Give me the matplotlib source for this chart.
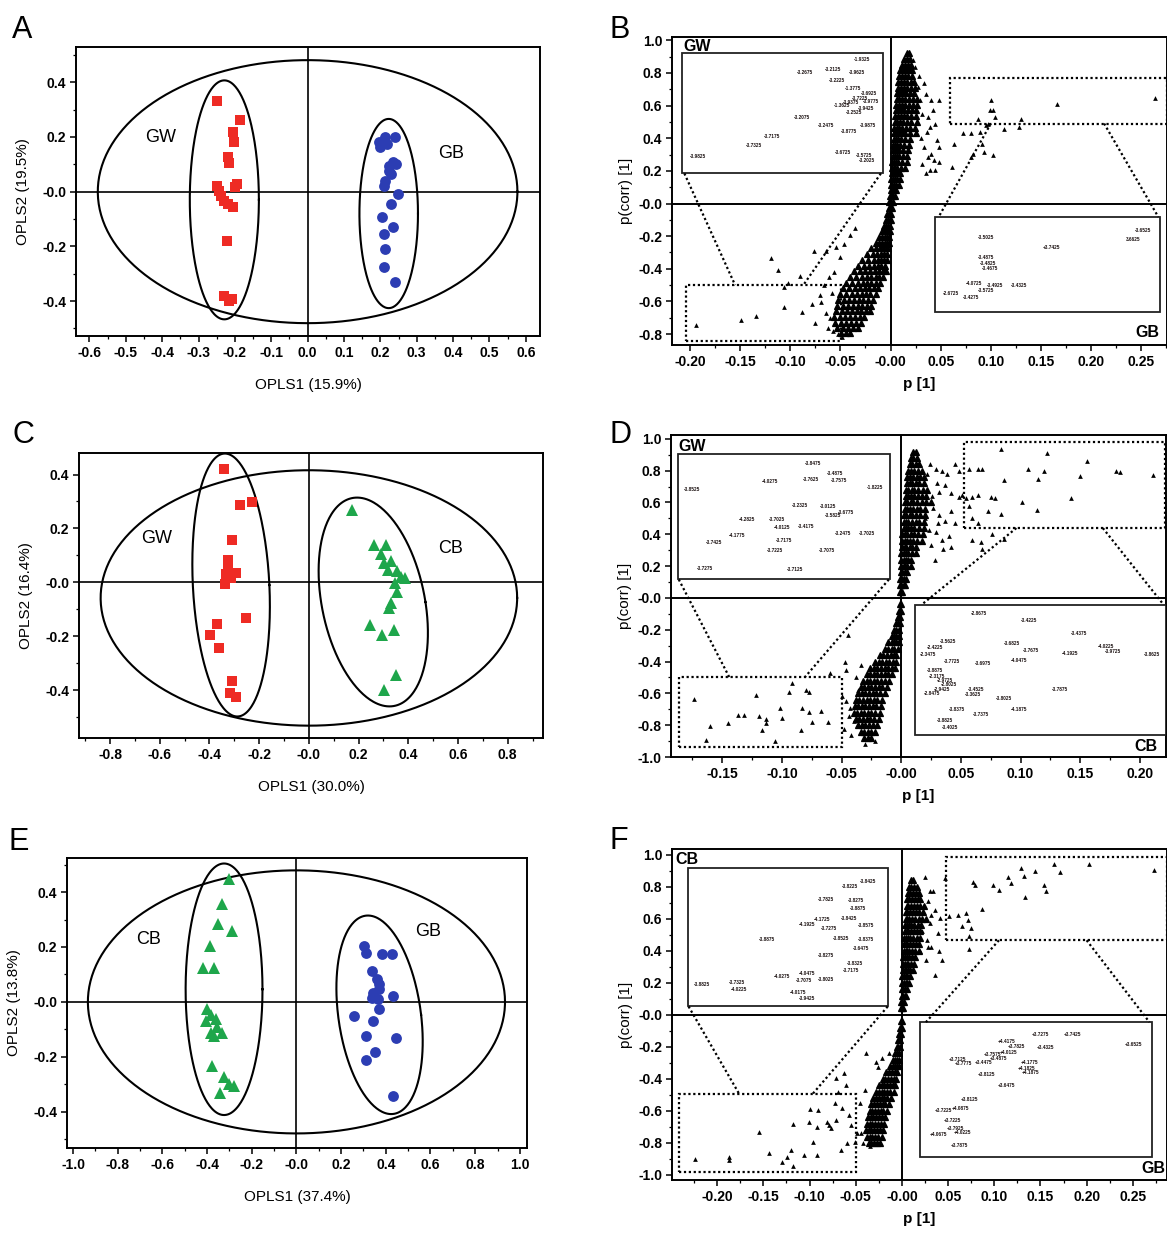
import numpy as np
import matplotlib
matplotlib.use("Agg")
import matplotlib.pyplot as plt
from matplotlib.patches import Rectangle
from matplotlib.ticker import AutoMinorLocator

plt.rcParams['font.family'] = ['Liberation Sans', 'DejaVu Sans']

RED = '#ee2b24'
BLUE = '#2c3db3'
GREEN = '#1ea64b'

# ===================== DATA: score plots =====================
a_gw_x = [-0.25, -0.186, -0.205, -0.203, -0.218, -0.215, -0.194, -0.25, -0.243, -0.237, -0.23, -0.218, -0.205, -0.2, -0.223, -0.23, -0.207, -0.215]
a_gw_y = [0.333, 0.263, 0.217, 0.181, 0.126, 0.105, 0.028, 0.022, 0.004, -0.015, -0.033, -0.045, -0.057, 0.016, -0.182, -0.381, -0.393, -0.4]
a_gb_x = [0.2, 0.214, 0.239, 0.219, 0.195, 0.234, 0.224, 0.244, 0.214, 0.229, 0.249, 0.229, 0.204, 0.234, 0.209, 0.214, 0.209, 0.239, 0.224, 0.209]
a_gb_y = [0.162, 0.199, 0.199, 0.175, 0.181, 0.107, 0.077, 0.101, 0.04, 0.065, -0.009, -0.045, -0.094, -0.131, -0.155, -0.21, -0.277, -0.332, 0.093, 0.022]

c_gw_x = [-0.341, -0.276, -0.229, -0.309, -0.324, -0.327, -0.335, -0.295, -0.338, -0.312, -0.255, -0.371, -0.396, -0.36, -0.309, -0.319, -0.295]
c_gw_y = [0.422, 0.286, 0.299, 0.157, 0.083, 0.058, 0.031, 0.033, -0.006, 0.015, -0.133, -0.154, -0.195, -0.244, -0.368, -0.411, -0.426]
c_cb_x = [0.173, 0.263, 0.309, 0.292, 0.302, 0.331, 0.317, 0.353, 0.37, 0.388, 0.345, 0.355, 0.324, 0.245, 0.295, 0.341, 0.35, 0.302, 0.331]
c_cb_y = [0.268, 0.138, 0.138, 0.105, 0.07, 0.08, 0.046, 0.043, 0.021, 0.015, -0.004, -0.035, -0.096, -0.158, -0.195, -0.177, -0.343, -0.399, -0.078]

e_cb_x = [-0.304, -0.333, -0.349, -0.288, -0.387, -0.416, -0.368, -0.4, -0.381, -0.36, -0.403, -0.355, -0.333, -0.368, -0.384, -0.376, -0.323, -0.28, -0.344, -0.304]
e_cb_y = [0.446, 0.355, 0.282, 0.258, 0.204, 0.125, 0.125, -0.027, -0.048, -0.063, -0.069, -0.09, -0.112, -0.126, -0.112, -0.233, -0.275, -0.305, -0.33, -0.299]
e_gb_x = [0.304, 0.312, 0.384, 0.429, 0.336, 0.36, 0.368, 0.344, 0.336, 0.365, 0.432, 0.368, 0.256, 0.344, 0.312, 0.445, 0.352, 0.312, 0.432, 0.371]
e_gb_y = [0.204, 0.179, 0.173, 0.173, 0.113, 0.082, 0.064, 0.034, 0.016, 0.01, 0.022, -0.027, -0.051, -0.069, -0.124, -0.13, -0.184, -0.211, -0.342, 0.046]

# ellipses: centre x, centre y, half width, half height, shear
a_ell = [(0.0, 0.0, 0.577, 0.481, 0.0), (-0.229, -0.03, 0.095, 0.437, 0.0), (0.223, -0.08, 0.0805, 0.346, 0.0)]
c_ell = [(0.0, -0.058, 0.838, 0.474, 0.0), (-0.313, -0.01, 0.154, 0.488, -0.051), (0.259, -0.073, 0.21, 0.3875, -0.168)]
e_ell = [(0.0, 0.0, 0.9335, 0.479, 0.0), (-0.324, 0.046, 0.172, 0.458, 0.0), (0.372, -0.047, 0.186, 0.3615, -0.144)]

# ===================== DATA: S-plots =====================
b_up_rows = [
    (0.92, [0.016, 0.018]), (0.885, [0.013, 0.016, 0.019]), (0.85, [0.011, 0.014, 0.017, 0.020]),
    (0.815, [0.009, 0.012, 0.015, 0.018, 0.021]), (0.78, [0.008, 0.011, 0.014, 0.017, 0.021]),
    (0.745, [0.007, 0.010, 0.013, 0.016, 0.020, 0.023]), (0.71, [0.007, 0.010, 0.013, 0.016, 0.020, 0.024]),
    (0.675, [0.006, 0.009, 0.012, 0.015, 0.019, 0.023]), (0.64, [0.006, 0.008, 0.011, 0.014, 0.018, 0.022, 0.026]),
    (0.605, [0.005, 0.008, 0.011, 0.014, 0.018, 0.022, 0.026]), (0.57, [0.005, 0.007, 0.010, 0.013, 0.017, 0.021, 0.025]),
    (0.535, [0.004, 0.007, 0.010, 0.013, 0.016, 0.020, 0.025]), (0.50, [0.004, 0.006, 0.009, 0.012, 0.016, 0.020, 0.026]),
    (0.465, [0.003, 0.006, 0.008, 0.011, 0.015, 0.019, 0.024]), (0.43, [0.003, 0.005, 0.008, 0.011, 0.014, 0.019, 0.025]),
    (0.395, [0.003, 0.005, 0.007, 0.010, 0.014, 0.019]), (0.36, [0.002, 0.004, 0.006, 0.009, 0.013, 0.018]),
    (0.325, [0.002, 0.004, 0.006, 0.008, 0.012, 0.017]), (0.29, [0.002, 0.004, 0.006, 0.008, 0.012, 0.016]),
    (0.255, [0.001, 0.003, 0.005, 0.007, 0.011, 0.016]), (0.22, [0.001, 0.003, 0.004, 0.006, 0.010, 0.014]),
    (0.185, [0.001, 0.002, 0.004, 0.006, 0.009]), (0.15, [0.000, 0.002, 0.004, 0.006, 0.009]),
    (0.115, [0.000, 0.001, 0.003, 0.005, 0.008]), (0.08, [0.000, 0.001, 0.003, 0.005]),
    (0.045, [-0.001, 0.001, 0.002, 0.004]), (0.01, [-0.002, 0.000, 0.002]),
]
b_lo_rows = [
    (-0.03, [-0.002, -0.001, 0.001]), (-0.065, [-0.004, -0.002, -0.001, 0.000]),
    (-0.10, [-0.005, -0.003, -0.001, 0.000]), (-0.135, [-0.007, -0.005, -0.003, -0.001]),
    (-0.17, [-0.009, -0.007, -0.005, -0.003, -0.001]), (-0.205, [-0.012, -0.009, -0.006, -0.004, -0.002]),
    (-0.24, [-0.015, -0.012, -0.009, -0.006, -0.004, -0.002]), (-0.275, [-0.019, -0.015, -0.011, -0.008, -0.005, -0.003]),
    (-0.31, [-0.023, -0.018, -0.014, -0.010, -0.007, -0.004]), (-0.345, [-0.028, -0.022, -0.017, -0.013, -0.010, -0.007, -0.004]),
    (-0.38, [-0.032, -0.026, -0.021, -0.017, -0.013, -0.010, -0.006]),
    (-0.415, [-0.036, -0.030, -0.025, -0.020, -0.016, -0.012, -0.008, -0.005]),
    (-0.45, [-0.040, -0.034, -0.028, -0.023, -0.019, -0.015, -0.012, -0.008]),
    (-0.485, [-0.044, -0.038, -0.032, -0.027, -0.023, -0.019, -0.015, -0.011]),
    (-0.52, [-0.047, -0.041, -0.035, -0.030, -0.025, -0.021, -0.017, -0.013]),
    (-0.555, [-0.050, -0.044, -0.038, -0.033, -0.028, -0.024, -0.020, -0.015]),
    (-0.59, [-0.052, -0.046, -0.041, -0.036, -0.031, -0.027, -0.022, -0.018]),
    (-0.625, [-0.053, -0.047, -0.042, -0.037, -0.032, -0.028, -0.023, -0.019]),
    (-0.66, [-0.054, -0.048, -0.043, -0.038, -0.033, -0.029, -0.024, -0.020]),
    (-0.695, [-0.056, -0.050, -0.045, -0.040, -0.035, -0.030, -0.026]),
    (-0.73, [-0.055, -0.049, -0.044, -0.039, -0.034, -0.029]),
    (-0.765, [-0.053, -0.047, -0.042, -0.037, -0.032]),
    (-0.795, [-0.049, -0.044, -0.040]),
]
b_sc_x = [0.024, 0.027, 0.029, 0.031, 0.035, 0.037, 0.039, 0.040, 0.042, 0.044, 0.046, 0.043, 0.037, 0.033, 0.040, 0.048, 0.031, 0.035, 0.039, 0.044, 0.048, 0.048, 0.063, 0.061, 0.072, 0.080, 0.082, 0.080, 0.091, 0.089, 0.087, 0.095, 0.100, 0.099, 0.102, 0.104, 0.102, 0.093, 0.097, 0.113, 0.128, 0.130, 0.166, 0.264, 0.028, 0.033, 0.022, 0.030, 0.036, 0.026,
          -0.194, -0.149, -0.134, -0.119, -0.112, -0.106, -0.106, -0.102, -0.090, -0.088, -0.076, -0.078, -0.075, -0.064, -0.069, -0.066, -0.061, -0.064, -0.054, -0.058, -0.060, -0.062, -0.057, -0.052, -0.048, -0.046, -0.040, -0.035, -0.050, -0.056, -0.070]
b_sc_y = [0.837, 0.714, 0.633, 0.551, 0.673, 0.531, 0.469, 0.633, 0.571, 0.49, 0.388, 0.265, 0.286, 0.347, 0.306, 0.255, 0.245, 0.184, 0.204, 0.204, 0.347, 0.633, 0.367, 0.224, 0.429, 0.429, 0.306, 0.286, 0.367, 0.439, 0.52, 0.48, 0.633, 0.571, 0.571, 0.531, 0.296, 0.316, 0.49, 0.459, 0.469, 0.52, 0.608, 0.647, 0.78, 0.74, 0.88, 0.40, 0.44, 0.50,
          -0.745, -0.714, -0.69, -0.331, -0.408, -0.514, -0.637, -0.484, -0.443, -0.663, -0.29, -0.616, -0.731, -0.29, -0.602, -0.50, -0.449, -0.673, -0.265, -0.55, -0.70, -0.76, -0.78, -0.80, -0.82, -0.25, -0.19, -0.15, -0.33, -0.42, -0.56]

d_up_rows = [
    (0.92, [0.010, 0.012]), (0.88, [0.008, 0.010, 0.013]), (0.84, [0.007, 0.009, 0.012, 0.015]),
    (0.80, [0.006, 0.008, 0.011, 0.014, 0.017]), (0.76, [0.005, 0.007, 0.010, 0.013, 0.016, 0.019]),
    (0.72, [0.005, 0.007, 0.009, 0.012, 0.015, 0.019]), (0.68, [0.004, 0.006, 0.009, 0.011, 0.014, 0.018, 0.022]),
    (0.64, [0.004, 0.006, 0.008, 0.011, 0.014, 0.017, 0.021]), (0.60, [0.003, 0.005, 0.008, 0.010, 0.013, 0.017, 0.021, 0.025]),
    (0.56, [0.003, 0.005, 0.007, 0.010, 0.013, 0.016, 0.020]), (0.52, [0.002, 0.004, 0.007, 0.009, 0.012, 0.016, 0.020]),
    (0.48, [0.002, 0.004, 0.006, 0.009, 0.012, 0.015, 0.019]), (0.44, [0.002, 0.004, 0.006, 0.008, 0.011, 0.015, 0.019]),
    (0.40, [0.001, 0.003, 0.005, 0.008, 0.011, 0.014, 0.018]), (0.36, [0.001, 0.003, 0.005, 0.007, 0.010, 0.013, 0.017]),
    (0.32, [0.001, 0.003, 0.004, 0.007, 0.009, 0.012]), (0.28, [0.000, 0.002, 0.004, 0.006, 0.009, 0.012]),
    (0.24, [0.000, 0.002, 0.004, 0.006, 0.008]), (0.20, [0.000, 0.002, 0.003, 0.005, 0.008]),
    (0.16, [0.000, 0.001, 0.003, 0.005]), (0.12, [-0.001, 0.001, 0.002, 0.004]),
    (0.08, [-0.001, 0.000, 0.002, 0.003]), (0.04, [-0.001, 0.000, 0.001]),
]
d_lo_rows = [
    (-0.04, [-0.001, 0.000]), (-0.08, [-0.002, -0.001, 0.000]), (-0.12, [-0.003, -0.002, -0.001]),
    (-0.16, [-0.004, -0.003, -0.001]), (-0.20, [-0.006, -0.004, -0.002]), (-0.24, [-0.008, -0.006, -0.004, -0.002]),
    (-0.28, [-0.011, -0.008, -0.006, -0.004, -0.002]), (-0.32, [-0.014, -0.011, -0.008, -0.006, -0.003]),
    (-0.36, [-0.018, -0.015, -0.012, -0.009, -0.006, -0.004]),
    (-0.40, [-0.022, -0.019, -0.016, -0.013, -0.010, -0.007, -0.004]),
    (-0.44, [-0.026, -0.023, -0.020, -0.017, -0.014, -0.011, -0.008, -0.005]),
    (-0.48, [-0.029, -0.026, -0.023, -0.020, -0.017, -0.014, -0.011, -0.008]),
    (-0.52, [-0.032, -0.029, -0.026, -0.023, -0.020, -0.017, -0.014, -0.010]),
    (-0.56, [-0.034, -0.031, -0.028, -0.025, -0.022, -0.019, -0.016, -0.012]),
    (-0.60, [-0.036, -0.033, -0.030, -0.027, -0.024, -0.021, -0.018, -0.014]),
    (-0.64, [-0.038, -0.035, -0.032, -0.029, -0.026, -0.023, -0.020, -0.016]),
    (-0.68, [-0.039, -0.036, -0.033, -0.030, -0.027, -0.024, -0.021, -0.017]),
    (-0.72, [-0.040, -0.037, -0.034, -0.031, -0.028, -0.025, -0.022, -0.018]),
    (-0.76, [-0.038, -0.035, -0.032, -0.029, -0.026, -0.023, -0.019]),
    (-0.80, [-0.036, -0.033, -0.030, -0.027, -0.024, -0.020]),
    (-0.84, [-0.034, -0.031, -0.028, -0.025, -0.022]), (-0.88, [-0.031, -0.028, -0.025]),
]
d_sc_x = [0.024, 0.029, 0.034, 0.038, 0.045, 0.048, 0.057, 0.064, 0.032, 0.037, 0.042, 0.048, 0.051, 0.054, 0.059, 0.064, 0.027, 0.032, 0.037, 0.042, 0.045, 0.057, 0.059, 0.064, 0.029, 0.034, 0.040, 0.042, 0.035, 0.028, 0.059, 0.067, 0.076, 0.086, 0.068, 0.073, 0.079, 0.075, 0.084, 0.086, 0.084, 0.101, 0.106, 0.115, 0.114, 0.122, 0.120, 0.142, 0.150, 0.156, 0.180, 0.183, 0.211, 0.068, 0.030, 0.026, 0.022, 0.031, 0.025, 0.020, 0.023,
          -0.174, -0.164, -0.160, -0.145, -0.137, -0.132, -0.122, -0.119, -0.117, -0.113, -0.113, -0.106, -0.102, -0.100, -0.094, -0.092, -0.084, -0.083, -0.080, -0.077, -0.077, -0.075, -0.067, -0.061, -0.060, -0.050, -0.047, -0.046, -0.043, -0.048, -0.040, -0.045, -0.036, -0.042, -0.044, -0.046, -0.030, -0.022, -0.038, -0.034]
d_sc_y = [0.841, 0.81, 0.80, 0.78, 0.841, 0.80, 0.81, 0.81, 0.667, 0.708, 0.657, 0.637, 0.647, 0.627, 0.637, 0.647, 0.565, 0.524, 0.484, 0.545, 0.473, 0.576, 0.504, 0.473, 0.412, 0.361, 0.392, 0.32, 0.31, 0.239, 0.361, 0.351, 0.402, 0.371, 0.31, 0.545, 0.627, 0.637, 0.933, 0.739, 0.529, 0.606, 0.81, 0.749, 0.555, 0.912, 0.80, 0.627, 0.769, 0.861, 0.80, 0.79, 0.773, 0.81, 0.72, 0.64, 0.78, 0.47, 0.33, 0.50, 0.43,
          -0.633, -0.894, -0.806, -0.788, -0.737, -0.737, -0.608, -0.741, -0.833, -0.761, -0.786, -0.90, -0.69, -0.757, -0.594, -0.537, -0.833, -0.69, -0.578, -0.594, -0.716, -0.782, -0.71, -0.782, -0.471, -0.618, -0.404, -0.455, -0.69, -0.822, -0.771, -0.231, -0.578, -0.86, -0.74, -0.65, -0.92, -0.90, -0.50, -0.42]

f_up_rows = [
    (0.84, [0.010, 0.012]), (0.80, [0.008, 0.010, 0.013, 0.016]), (0.76, [0.007, 0.009, 0.012, 0.015, 0.018]),
    (0.72, [0.006, 0.008, 0.011, 0.014, 0.017, 0.020]), (0.68, [0.005, 0.007, 0.010, 0.013, 0.016, 0.020, 0.024]),
    (0.64, [0.004, 0.006, 0.009, 0.012, 0.015, 0.019, 0.023]), (0.60, [0.004, 0.006, 0.008, 0.011, 0.014, 0.018, 0.022, 0.026]),
    (0.56, [0.003, 0.005, 0.008, 0.010, 0.013, 0.017, 0.021]), (0.52, [0.003, 0.005, 0.007, 0.010, 0.013, 0.016, 0.020]),
    (0.48, [0.002, 0.004, 0.007, 0.009, 0.012, 0.016, 0.020]), (0.44, [0.002, 0.004, 0.006, 0.009, 0.012, 0.015, 0.019]),
    (0.40, [0.002, 0.004, 0.006, 0.008, 0.011, 0.014, 0.018]), (0.36, [0.001, 0.003, 0.005, 0.008, 0.011, 0.014]),
    (0.32, [0.001, 0.003, 0.005, 0.007, 0.010, 0.013]), (0.28, [0.001, 0.003, 0.004, 0.007, 0.009, 0.012]),
    (0.24, [0.000, 0.002, 0.004, 0.006, 0.009]), (0.20, [0.000, 0.002, 0.004, 0.006, 0.008]),
    (0.16, [0.000, 0.001, 0.003, 0.005]), (0.12, [0.000, 0.001, 0.003, 0.004]),
    (0.08, [-0.001, 0.000, 0.002]), (0.04, [-0.001, 0.000, 0.001]),
]
f_lo_rows = [
    (-0.04, [-0.001, 0.000]), (-0.08, [-0.002, -0.001, 0.000]), (-0.12, [-0.003, -0.002, -0.001]),
    (-0.16, [-0.004, -0.003, -0.002]), (-0.20, [-0.005, -0.004, -0.002]), (-0.24, [-0.007, -0.005, -0.003]),
    (-0.28, [-0.010, -0.007, -0.005, -0.003]), (-0.32, [-0.013, -0.010, -0.007, -0.005, -0.003]),
    (-0.36, [-0.017, -0.014, -0.011, -0.008, -0.005]), (-0.40, [-0.021, -0.018, -0.015, -0.012, -0.009, -0.006]),
    (-0.44, [-0.025, -0.022, -0.019, -0.016, -0.013, -0.010, -0.007]),
    (-0.48, [-0.028, -0.025, -0.022, -0.019, -0.016, -0.013, -0.009]),
    (-0.52, [-0.031, -0.028, -0.025, -0.022, -0.019, -0.016, -0.012]),
    (-0.56, [-0.033, -0.030, -0.027, -0.024, -0.021, -0.018, -0.014]),
    (-0.60, [-0.035, -0.032, -0.029, -0.026, -0.023, -0.020, -0.016]),
    (-0.64, [-0.037, -0.034, -0.031, -0.028, -0.025, -0.022, -0.018]),
    (-0.68, [-0.038, -0.035, -0.032, -0.029, -0.026, -0.023, -0.019]),
    (-0.72, [-0.039, -0.036, -0.033, -0.030, -0.027, -0.024, -0.020]),
    (-0.76, [-0.038, -0.035, -0.032, -0.029, -0.026, -0.022]),
    (-0.80, [-0.036, -0.033, -0.030, -0.027, -0.024]),
]
f_sc_x = [0.025, 0.030, 0.034, 0.028, 0.036, 0.041, 0.039, 0.028, 0.032, 0.040, 0.043, 0.026, 0.036, 0.030, 0.047, 0.051, 0.061, 0.069, 0.071, 0.065, 0.075, 0.073, 0.073, 0.087, 0.077, 0.079, 0.099, 0.105, 0.115, 0.118, 0.129, 0.132, 0.133, 0.144, 0.154, 0.156, 0.165, 0.171, 0.203, 0.273, 0.024, 0.032, 0.022, 0.027, 0.020,
          -0.039, -0.028, -0.026, -0.022, -0.014, -0.071, -0.063, -0.061, -0.069, -0.073, -0.065, -0.099, -0.091, -0.101, -0.092, -0.081, -0.079, -0.071, -0.077, -0.057, -0.055, -0.049, -0.044, -0.051, -0.060, -0.066, -0.118, -0.155, -0.144, -0.224, -0.187, -0.187, -0.130, -0.124, -0.118, -0.120, -0.106, -0.092, -0.096, -0.045, -0.040, -0.042, -0.035]
f_sc_y = [0.86, 0.771, 0.771, 0.708, 0.656, 0.604, 0.51, 0.423, 0.423, 0.396, 0.344, 0.344, 0.246, 0.573, 0.854, 0.615, 0.625, 0.635, 0.594, 0.552, 0.542, 0.49, 0.41, 0.66, 0.827, 0.813, 0.813, 0.777, 0.86, 0.823, 0.917, 0.869, 0.735, 0.896, 0.813, 0.771, 0.942, 0.89, 0.942, 0.902, 0.68, 0.62, 0.52, 0.47, 0.40,
          -0.24, -0.292, -0.323, -0.271, -0.24, -0.396, -0.365, -0.438, -0.479, -0.548, -0.583, -0.59, -0.594, -0.667, -0.698, -0.667, -0.688, -0.656, -0.708, -0.625, -0.688, -0.74, -0.74, -0.792, -0.802, -0.844, -0.681, -0.729, -0.865, -0.90, -0.89, -0.906, -0.917, -0.885, -0.942, -0.844, -0.875, -0.875, -0.792, -0.55, -0.47, -0.80, -0.82]

# inset variable labels (text, x, y)
b_gw_labels = [("-1.9325", -0.028, 0.881), ("-3.2675", -0.085, 0.803), ("-3.2125", -0.057, 0.822), ("-3.9625", -0.034, 0.800),
               ("-3.2225", -0.053, 0.754), ("-1.3775", -0.037, 0.705), ("-3.6925", -0.022, 0.675), ("-3.7225", -0.031, 0.645),
               ("-3.9775", -0.020, 0.622), ("-1.3625", -0.048, 0.598), ("-3.9425", -0.024, 0.580), ("-3.2525", -0.036, 0.555),
               ("-3.2075", -0.088, 0.528), ("-3.2475", -0.064, 0.475), ("-3.9875", -0.0224, 0.48), ("-3.8775", -0.0418, 0.44),
               ("-3.7175", -0.118, 0.413), ("-3.7325", -0.136, 0.354), ("-3.9825", -0.192, 0.286), ("-3.6725", -0.047, 0.31),
               ("-3.5725", -0.026, 0.292), ("-3.2025", -0.024, 0.262), ("-3.9375", -0.040, 0.620)]
b_gb_labels = [("-3.5025", 0.0956, -0.209), ("+3.7425", 0.1606, -0.272), ("-3.6525", 0.252, -0.167), ("3.6625", 0.242, -0.219),
               ("-3.4875", 0.0956, -0.33), ("-3.4825", 0.097, -0.365), ("-3.4675", 0.099, -0.40), ("-4.0725", 0.0836, -0.49),
               ("-3.4925", 0.104, -0.50), ("-3.5725", 0.0956, -0.535), ("-3.4325", 0.128, -0.50), ("-2.6725", 0.060, -0.55),
               ("-3.4275", 0.0806, -0.575)]
d_gw_labels = [("-3.8475", -0.0736, 0.847), ("-3.4875", -0.0555, 0.785), ("-3.7625", -0.076, 0.745), ("-3.7575", -0.0526, 0.739),
               ("-4.0275", -0.1098, 0.729), ("-3.8525", -0.1754, 0.684), ("-1.8225", -0.0219, 0.692), ("-3.2325", -0.0847, 0.582),
               ("-3.0125", -0.061, 0.576), ("-3.6775", -0.0465, 0.535), ("-3.5825", -0.057, 0.515), ("-4.2825", -0.1294, 0.494),
               ("-3.7025", -0.1043, 0.494), ("-4.0125", -0.0997, 0.443), ("-3.4175", -0.080, 0.450), ("-3.2475", -0.0491, 0.406),
               ("-3.7025", -0.0284, 0.406), ("-4.1775", -0.1377, 0.392), ("-3.7425", -0.1573, 0.351), ("-3.7175", -0.0987, 0.361),
               ("-3.7225", -0.1056, 0.30), ("-3.7075", -0.0624, 0.30), ("-3.7275", -0.1643, 0.182), ("-3.7125", -0.0889, 0.178)]
d_cb_labels = [("-2.8675", 0.0653, -0.097), ("-3.4225", 0.1069, -0.143), ("-3.4375", 0.1486, -0.222), ("-3.5625", 0.0395, -0.275),
               ("-2.4225", 0.0282, -0.309), ("-2.3475", 0.0226, -0.357), ("-3.7725", 0.0423, -0.402), ("-3.6975", 0.0682, -0.412),
               ("-3.6825", 0.0927, -0.288), ("-3.7675", 0.1085, -0.33), ("-4.0475", 0.0984, -0.392), ("-4.1925", 0.1418, -0.35),
               ("-4.0225", 0.1718, -0.305), ("-3.9725", 0.1775, -0.335), ("-3.8625", 0.2105, -0.355), ("-3.8875", 0.0282, -0.454),
               ("-2.3175", 0.0296, -0.491), ("-2.9725", 0.0368, -0.516), ("-2.8025", 0.0397, -0.547), ("-2.9425", 0.034, -0.574),
               ("-2.8475", 0.0255, -0.603), ("-3.3625", 0.0598, -0.606), ("-3.4525", 0.0627, -0.575), ("-3.8025", 0.0857, -0.63),
               ("-3.7875", 0.1332, -0.578), ("-3.8375", 0.0467, -0.703), ("-3.7375", 0.0668, -0.734), ("-4.1875", 0.0984, -0.703),
               ("-3.8825", 0.0366, -0.772), ("-3.4025", 0.041, -0.813)]
f_cb_labels = [("-3.8425", -0.0368, 0.834), ("-3.8225", -0.0568, 0.802), ("-3.7825", -0.0823, 0.721), ("-3.8275", -0.0503, 0.714),
               ("-3.8875", -0.0477, 0.664), ("-4.1725", -0.0867, 0.594), ("-4.1925", -0.103, 0.562), ("-3.8425", -0.0568, 0.598),
               ("-3.7275", -0.0787, 0.536), ("-3.8575", -0.0386, 0.555), ("-3.8525", -0.0659, 0.477), ("-3.8375", -0.0386, 0.47),
               ("-3.8875", -0.1459, 0.47), ("-3.6475", -0.0441, 0.413), ("-3.8275", -0.0823, 0.371), ("-3.8325", -0.0513, 0.318),
               ("-3.7175", -0.0549, 0.276), ("-4.0475", -0.103, 0.259), ("-4.0275", -0.1303, 0.237), ("-3.7075", -0.1066, 0.212),
               ("-3.8025", -0.0823, 0.222), ("-3.8825", -0.216, 0.186), ("-3.7325", -0.1786, 0.201), ("-4.0225", -0.1768, 0.159),
               ("-4.0175", -0.1121, 0.137), ("-3.9425", -0.103, 0.101)]
f_gb_labels = [("+3.7275", 0.150, -0.122), ("+3.7425", 0.1848, -0.122), ("+4.4175", 0.1136, -0.164), ("+3.7825", 0.1244, -0.20),
               ("+3.4325", 0.1551, -0.206), ("+3.6525", 0.2508, -0.185), ("+3.7575", 0.0986, -0.248), ("+4.0125", 0.1154, -0.236),
               ("+3.7125", 0.060, -0.282), ("+3.7775", 0.0665, -0.305), ("+3.4475", 0.088, -0.300), ("+3.4875", 0.1044, -0.272),
               ("+4.1775", 0.138, -0.30), ("+4.1825", 0.135, -0.335), ("+4.1875", 0.139, -0.36), ("+3.8125", 0.0914, -0.37),
               ("+3.6475", 0.1134, -0.44), ("+3.8125", 0.073, -0.53), ("+3.7225", 0.0455, -0.60), ("+4.0875", 0.064, -0.585),
               ("+3.7225", 0.0548, -0.657), ("+3.7925", 0.0585, -0.71), ("+4.0225", 0.066, -0.735), ("+4.0675", 0.040, -0.75),
               ("+3.7875", 0.062, -0.818)]

# ===================== ticks / labels =====================
a_xticks = [-0.6, -0.5, -0.4, -0.3, -0.2, -0.1, 0.0, 0.1, 0.2, 0.3, 0.4, 0.5, 0.6]
a_xlabels = ["-0.6", "-0.5", "-0.4", "-0.3", "-0.2", "-0.1", "0.0", "0.1", "0.2", "0.3", "0.4", "0.5", "0.6"]
score_yticks = [0.4, 0.2, 0.0, -0.2, -0.4]
score_ylabels = ["0.4", "0.2", "-0.0", "-0.2", "-0.4"]
c_xticks = [-0.8, -0.6, -0.4, -0.2, 0.0, 0.2, 0.4, 0.6, 0.8]
c_xlabels = ["-0.8", "-0.6", "-0.4", "-0.2", "-0.0", "0.2", "0.4", "0.6", "0.8"]
e_xticks = [-1.0, -0.8, -0.6, -0.4, -0.2, 0.0, 0.2, 0.4, 0.6, 0.8, 1.0]
e_xlabels = ["-1.0", "-0.8", "-0.6", "-0.4", "-0.2", "-0.0", "0.2", "0.4", "0.6", "0.8", "1.0"]
b_xticks = [-0.20, -0.15, -0.10, -0.05, 0.0, 0.05, 0.10, 0.15, 0.20, 0.25]
b_xlabels = ["-0.20", "-0.15", "-0.10", "-0.05", "-0.00", "0.05", "0.10", "0.15", "0.20", "0.25"]
d_xticks = [-0.15, -0.10, -0.05, 0.0, 0.05, 0.10, 0.15, 0.20]
d_xlabels = ["-0.15", "-0.10", "-0.05", "-0.00", "0.05", "0.10", "0.15", "0.20"]
b_yticks = [1.0, 0.8, 0.6, 0.4, 0.2, 0.0, -0.2, -0.4, -0.6, -0.8]
b_ylabels = ["1.0", "0.8", "0.6", "0.4", "0.2", "-0.0", "-0.2", "-0.4", "-0.6", "-0.8"]
df_yticks = [1.0, 0.8, 0.6, 0.4, 0.2, 0.0, -0.2, -0.4, -0.6, -0.8, -1.0]
df_ylabels = ["1.0", "0.8", "0.6", "0.4", "0.2", "-0.0", "-0.2", "-0.4", "-0.6", "-0.8", "-1.0"]

# ===================== drawing =====================
fig = plt.figure(figsize=(11.67, 12.34), dpi=100)
fig.patch.set_facecolor('white')


def style_axes(ax, xt, xl, yt, yl):
    ax.set_xticks(xt)
    ax.set_xticklabels(xl)
    ax.set_yticks(yt)
    ax.set_yticklabels(yl)
    ax.xaxis.set_minor_locator(AutoMinorLocator(2))
    ax.yaxis.set_minor_locator(AutoMinorLocator(2))
    ax.tick_params(which='major', direction='out', length=4, width=1.1, labelsize=10, pad=3)
    ax.tick_params(which='minor', direction='out', length=2.5, width=0.9)
    for lab in ax.get_xticklabels() + ax.get_yticklabels():
        lab.set_fontweight('bold')
    for sp in ax.spines.values():
        sp.set_linewidth(1.4)


def draw_ellipse(ax, e):
    cx, cy, a, b, s = e
    t = np.linspace(0, 2 * np.pi, 300)
    yy = b * np.sin(t)
    xx = a * np.cos(t) + s * yy
    ax.plot(cx + xx, cy + yy, color='black', lw=1.5, zorder=2)


def score_panel(rect, xlim, ylim, xt, xl, groups, ells, texts, xlabel, ylabel):
    ax = fig.add_axes(rect)
    ax.set_xlim(*xlim)
    ax.set_ylim(*ylim)
    ax.axhline(0, color='black', lw=1.2, zorder=1)
    ax.axvline(0, color='black', lw=1.2, zorder=1)
    for e in ells:
        draw_ellipse(ax, e)
    for gx, gy, col, mk, ms in groups:
        ax.plot(gx, gy, linestyle='none', marker=mk, color=col, markersize=ms, markeredgewidth=0, zorder=3)
    for s, x, y in texts:
        ax.text(x, y, s, fontsize=13, ha='center', va='center')
    style_axes(ax, xt, xl, score_yticks, score_ylabels)
    ax.set_xlabel(xlabel, fontsize=11, labelpad=13)
    ax.set_ylabel(ylabel, fontsize=11, labelpad=9)
    return ax


def flatten_rows(rows):
    xs, ys = [], []
    for y, xl in rows:
        for x in xl:
            xs.append(x)
            ys.append(y)
    return xs, ys


def splot_panel(rect, xlim, ylim, xt, xl, yt, yl, up_rows, lo_rows, sc_x, sc_y,
                insets, dboxes, links, labels, corner):
    ax = fig.add_axes(rect)
    ax.set_xlim(*xlim)
    ax.set_ylim(*ylim)
    ax.axhline(0, color='black', lw=1.4, zorder=1)
    ax.axvline(0, color='black', lw=1.4, zorder=1)
    for rows in (up_rows, lo_rows):
        cx, cy = flatten_rows(rows)
        ax.plot(cx, cy, linestyle='none', marker='^', color='black', markersize=4.8,
                markeredgewidth=0.9, markeredgecolor='black', zorder=3)
    ax.plot(sc_x, sc_y, linestyle='none', marker='^', color='black', markersize=3.4, markeredgewidth=0, zorder=3)
    for (x0, x1, y0, y1) in insets:
        ax.add_patch(Rectangle((x0, y0), x1 - x0, y1 - y0, facecolor='white', edgecolor='#222222', lw=1.3, zorder=4))
    for (x0, x1, y0, y1) in dboxes:
        ax.add_patch(Rectangle((x0, y0), x1 - x0, y1 - y0, facecolor='none', edgecolor='black', lw=1.6,
                               linestyle=(0, (1, 1.2)), zorder=4, clip_on=False))
    for (x0, y0, x1, y1) in links:
        ax.plot([x0, x1], [y0, y1], color='black', lw=1.6, linestyle=(0, (1, 1.2)), zorder=4)
    for s, x, y in labels:
        ax.text(x, y, s, fontsize=3.4, fontweight='bold', ha='center', va='center', color='#1a1010', zorder=5)
    for s, x, y, ha, va in corner:
        ax.text(x, y, s, fontsize=11.5, fontweight='bold', ha=ha, va=va, zorder=5)
    style_axes(ax, xt, xl, yt, yl)
    ax.set_xlabel("p [1]", fontsize=11, fontweight='bold', labelpad=6)
    ax.set_ylabel("p(corr) [1]", fontsize=11, labelpad=4)
    return ax


# ---- A ----
score_panel([0.0651, 0.7277, 0.3976, 0.2342], (-0.637, 0.639), (-0.528, 0.529), a_xticks, a_xlabels,
            [(a_gw_x, a_gw_y, RED, 's', 7.0), (a_gb_x, a_gb_y, BLUE, 'o', 7.8)], a_ell,
            [("GW", -0.403, 0.199), ("GB", 0.395, 0.138)], "OPLS1 (15.9%)", "OPLS2 (19.5%)")
# ---- C ----
score_panel([0.0677, 0.4019, 0.3976, 0.2310], (-0.925, 0.942), (-0.578, 0.48), c_xticks, c_xlabels,
            [(c_gw_x, c_gw_y, RED, 's', 7.0), (c_cb_x, c_cb_y, GREEN, '^', 9.0)], c_ell,
            [("GW", -0.612, 0.163), ("CB", 0.571, 0.126)], "OPLS1 (30.0%)", "OPLS2 (16.4%)")
# ---- E ----
score_panel([0.0574, 0.0697, 0.3942, 0.2350], (-1.027, 1.032), (-0.532, 0.524), e_xticks, e_xlabels,
            [(e_cb_x, e_cb_y, GREEN, '^', 9.0), (e_gb_x, e_gb_y, BLUE, 'o', 7.8)], e_ell,
            [("CB", -0.664, 0.228), ("GB", 0.589, 0.258)], "OPLS1 (37.4%)", "OPLS2 (13.8%)")

# ---- B ----
splot_panel([0.5758, 0.7204, 0.4242, 0.2496], (-0.218, 0.2757), (-0.867, 1.02), b_xticks, b_xlabels, b_yticks, b_ylabels,
            b_up_rows, b_lo_rows, b_sc_x, b_sc_y,
            insets=[(-0.2075, -0.008, 0.184, 0.922), (0.044, 0.269, -0.663, -0.082)],
            dboxes=[(-0.204, -0.049, -0.84, -0.50), (0.059, 0.276, 0.49, 0.771)],
            links=[(-0.2056, 0.184, -0.155, -0.50), (-0.0097, 0.184, -0.087, -0.50),
                   (0.10, 0.49, 0.048, -0.082), (0.213, 0.49, 0.267, -0.082)],
            labels=b_gw_labels + b_gb_labels,
            corner=[("GW", -0.207, 0.915, 'left', 'bottom'), ("GB", 0.268, -0.79, 'right', 'center')])
# ---- D ----
splot_panel([0.5750, 0.3865, 0.4242, 0.2610], (-0.193, 0.222), (-1.0, 1.024), d_xticks, d_xlabels, df_yticks, df_ylabels,
            d_up_rows, d_lo_rows, d_sc_x, d_sc_y,
            insets=[(-0.1874, -0.0094, 0.116, 0.902), (0.0116, 0.222, -0.859, -0.043)],
            dboxes=[(-0.1865, -0.0497, -0.935, -0.50), (0.0525, 0.221, 0.439, 0.978)],
            links=[(-0.1865, 0.116, -0.144, -0.50), (-0.0104, 0.116, -0.081, -0.50),
                   (0.0965, 0.439, 0.017, -0.043), (0.169, 0.439, 0.220, -0.043)],
            labels=d_gw_labels + d_cb_labels,
            corner=[("GW", -0.187, 0.905, 'left', 'bottom'), ("CB", 0.215, -0.935, 'right', 'center')])
# ---- F ----
splot_panel([0.5758, 0.0438, 0.4242, 0.2682], (-0.249, 0.287), (-1.031, 1.035), b_xticks, b_xlabels, df_yticks, df_ylabels,
            f_up_rows, f_lo_rows, f_sc_x, f_sc_y,
            insets=[(-0.232, -0.015, 0.052, 0.917), (0.020, 0.271, -0.885, -0.046)],
            dboxes=[(-0.241, -0.050, -0.983, -0.496), (0.048, 0.287, 0.465, 0.985)],
            links=[(-0.231, 0.052, -0.176, -0.496), (-0.0154, 0.052, -0.097, -0.496),
                   (0.105, 0.465, 0.026, -0.046), (0.200, 0.465, 0.268, -0.046)],
            labels=f_cb_labels + f_gb_labels,
            corner=[("CB", -0.245, 0.925, 'left', 'bottom'), ("GB", 0.2855, -0.958, 'right', 'center')])

# panel letters
for s, x, y in [("A", 0.0103, 0.988), ("B", 0.5227, 0.988), ("C", 0.0103, 0.660),
                ("D", 0.5227, 0.660), ("E", 0.0069, 0.330), ("F", 0.5227, 0.331)]:
    fig.text(x, y, s, fontsize=22, ha='left', va='top')

fig.savefig("out.png", dpi=100)
